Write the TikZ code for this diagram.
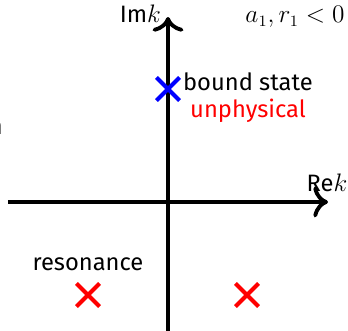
\documentclass[tikz,border=0pt]{standalone}
\usepackage{fontspec}
\setmainfont{Fira Sans}
\usepackage{xcolor}
\usetikzlibrary{arrows.meta,positioning,shapes.misc}

\tikzset{
  axis/.style={line width=2.2pt, -{Computer Modern Rightarrow[scale=1.3]}},
  pole/.style={cross out, draw, line width=2.3pt, minimum size=0.38cm, inner sep=0pt},
  lbl/.style={font=\fontsize{13.5}{15}\selectfont, inner sep=1pt}
}

\begin{document}
\begin{tikzpicture}
  \useasboundingbox (-3.36,-2.56) rectangle (3.60,4.04);
  % --- axes ---
  \coordinate (xl) at (-3.20,0.00);
  \coordinate (xr) at (3.20,0.00);
  \coordinate (yb) at (0.00,-2.60);
  \coordinate (yt) at (0.00,3.70);
  \draw[axis] (yb) -- (yt);
  \draw[axis] (xl) -- (xr);
  \node[lbl, anchor=east] (imk) at (-0.10,3.76) {Im$k$};
  \node[lbl] (rek) at (3.18,0.38) {Re$k$};
  \node[lbl] (cond) at (2.54,3.70) {$a_1, r_1 < 0$};
  % --- poles ---
  \node[pole, blue] (bound) at (0.00,2.26) {};
  \node[lbl, anchor=west] (boundlbl) at (0.26,2.40) {bound state};
  \node[lbl, red] (unphys) at (1.60,1.82) {unphysical};
  \node[pole, red] (resl) at (-1.60,-1.86) {};
  \node[pole, red] (resr) at (1.58,-1.86) {};
  \node[lbl, above=0.22cm of resl] (reslbl) {resonance};
  % cut-off text at the left edge
  \node[lbl, anchor=east] (cut) at (-3.26,1.48) {n};
\end{tikzpicture}
\end{document}
